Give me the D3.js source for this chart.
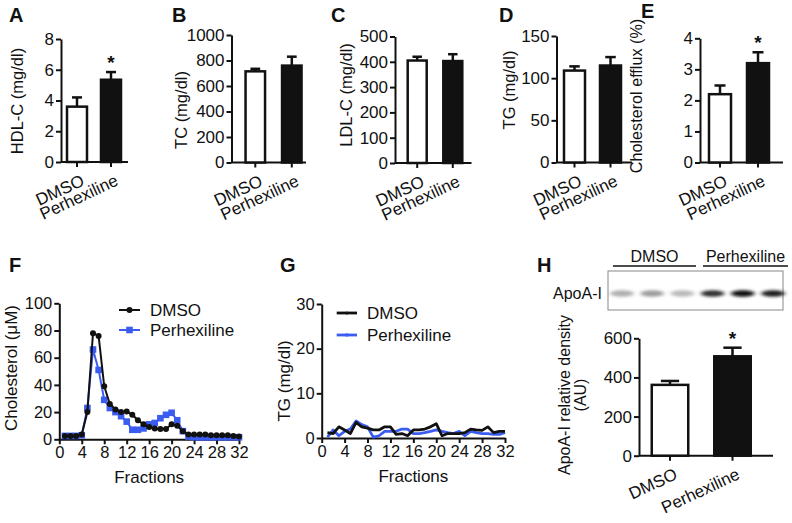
<!DOCTYPE html>
<html><head><meta charset="utf-8">
<script src="https://cdn.jsdelivr.net/npm/d3@7"></script>
<style>
body{margin:0;background:#fff;}
svg text{font-family:"Liberation Sans",Arial,Helvetica,sans-serif;fill:#111;}
</style></head><body>
<svg id="fig" width="792" height="523"></svg>
<script>
// ---------- DATA ----------
const groups = ["DMSO", "Perhexiline"];
const hdlMean = [3.6, 5.35], hdlErr = [0.6, 0.5], hdlSig = ["", "*"];
const hdlTicks = [0, 2, 4, 6, 8];
const tcMean = [715, 760], tcErr = [20, 70], tcSig = ["", ""];
const tcTicks = [0, 200, 400, 600, 800, 1000];
const ldlMean = [405, 403], ldlErr = [15, 27], ldlSig = ["", ""];
const ldlTicks = [0, 100, 200, 300, 400, 500];
const tgMean = [109, 115], tgErr = [5, 10], tgSig = ["", ""];
const tgTicks = [0, 50, 100, 150];
const effluxMean = [2.2, 3.2], effluxErr = [0.28, 0.35], effluxSig = ["", "*"];
const effluxTicks = [0, 1, 2, 3, 4];
const apoMean = [362, 508], apoErr = [20, 44], apoSig = ["", "*"];
const apoTicks = [0, 200, 400, 600];
const apoBand = [0.42, 0.48, 0.38, 0.85, 0.97, 0.9];  // blot band darkness

const fractions = d3.range(1, 33);
const fracTicks = [0, 4, 8, 12, 16, 20, 24, 28, 32];
const cholDMSO = [2.5,2.5,2.5,3.5,20,78,76,39,26,22,20,20.5,18,14,11,9,8,7.5,7.5,11,10,6,3.5,3.5,3.5,3.5,3,3,3,3,2.5,2];
const cholPerh = [2.5,2.5,2.5,3,23,66,51,29,23,20,17,13,7,7,8,11,12,15.5,18,19.5,14,6,2,1.5,1.5,1.5,1.5,1.5,1.5,1.5,1.5,1.5];
const cholTicks = [0, 20, 40, 60, 80, 100];
const tgfDMSO = [1.2,1.0,2.5,1.8,1.0,3.5,2.5,2.2,1.8,1.8,2.5,2.5,0.8,1.0,0.5,1.8,1.8,2.0,2.5,3.2,0.5,1.0,1.0,1.0,1.2,2.0,1.8,1.7,2.5,1.2,1.5,1.5];
const tgfPerh = [0.2,1.8,0.5,1.5,2.0,3.8,3.0,2.5,0.2,0.5,1.5,1.5,1.5,2.0,2.0,1.0,1.0,1.2,1.5,1.8,1.5,1.2,1.0,1.5,0.5,1.5,1.2,1.0,1.0,0.8,0.8,1.2];
const tgfTicks = [0, 10, 20, 30];

// ---------- DRAW ----------
const svg = d3.select("#fig");
const BLUE = "#3b5cf0";
const fmt = d3.format("d");
svg.append("defs").append("filter").attr("id","blur").attr("x","-50%").attr("y","-100%").attr("width","200%").attr("height","300%")
  .append("feGaussianBlur").attr("stdDeviation","2.2 1.4");

function panelLetter(t, x, y){
  svg.append("text").attr("x",x).attr("y",y).attr("font-size",20).attr("font-weight","bold").text(t);
}

function barPanel(o){
  const g = svg.append("g");
  const y = d3.scaleLinear().domain([0, o.ticks[o.ticks.length-1]]).range([o.y0, o.yTop]);
  const x = d3.scalePoint().domain(groups).range(o.centers);
  const ax = d3.axisLeft(y).tickValues(o.ticks).tickFormat(fmt).tickSize(5).tickSizeOuter(0).tickPadding(2);
  const ag = g.append("g").attr("transform",`translate(${o.ax},0)`).call(ax);
  ag.selectAll("text").attr("font-size",o.fs).attr("fill","#111");
  ag.selectAll("line,path").attr("stroke","#111").attr("stroke-width",2);
  g.append("line").attr("x1",o.ax).attr("x2",o.xEnd).attr("y1",o.y0).attr("y2",o.y0).attr("stroke","#111").attr("stroke-width",2);
  groups.forEach((gr,i)=>{
    const cx = x(gr);
    g.append("line").attr("x1",cx).attr("x2",cx).attr("y1",o.y0).attr("y2",o.y0+5).attr("stroke","#111").attr("stroke-width",2);
    const top = y(o.mean[i]+o.err[i]);
    g.append("line").attr("x1",cx).attr("x2",cx).attr("y1",y(o.mean[i])).attr("y2",top).attr("stroke","#111").attr("stroke-width",2.5);
    g.append("line").attr("x1",cx-o.bw/4).attr("x2",cx+o.bw/4).attr("y1",top).attr("y2",top).attr("stroke","#111").attr("stroke-width",2.5);
    g.append("rect").attr("x",cx-o.bw/2).attr("width",o.bw).attr("y",y(o.mean[i])).attr("height",o.y0-y(o.mean[i]))
      .attr("fill", i===0?"#fff":"#111").attr("stroke","#111").attr("stroke-width",2.5);
    if(o.sig[i]) g.append("text").attr("x",cx).attr("y",top-3).attr("text-anchor","middle").attr("font-size",19).attr("font-weight","bold").text(o.sig[i]);
    g.append("text").attr("text-anchor","end").attr("font-size",o.fs)
      .attr("transform",`translate(${cx+3},${o.y0+11}) rotate(-25)`).attr("dy","0.75em").text(gr);
  });
  const lab = g.append("text").attr("text-anchor","middle").attr("font-size",o.lfs||o.fs)
    .attr("transform",`translate(${o.lx},${o.ly}) rotate(-90)`);
  o.label.forEach((l,k)=>{
    lab.append("tspan").attr("x",0).attr("dy", k===0?0:(o.lfs||o.fs)*1.0).text(l);
  });
}

panelLetter("A",9,22);
barPanel({ax:61,xEnd:128,centers:[77,111],bw:20,yTop:39,y0:162,ticks:hdlTicks,mean:hdlMean,err:hdlErr,sig:hdlSig,label:["HDL-C (mg/dl)"],lx:23,ly:101,fs:17,lfs:16.5});
panelLetter("B",172,22);
barPanel({ax:231.5,xEnd:306,centers:[255.3,291.8],bw:19.5,yTop:35,y0:162.5,ticks:tcTicks,mean:tcMean,err:tcErr,sig:tcSig,label:["TC (mg/dl)"],lx:187,ly:110,fs:17,lfs:16.5});
panelLetter("C",331,22);
barPanel({ax:395,xEnd:471.5,centers:[417.2,452.8],bw:19,yTop:36.5,y0:163,ticks:ldlTicks,mean:ldlMean,err:ldlErr,sig:ldlSig,label:["LDL-C (mg/dl)"],lx:352,ly:95,fs:17,lfs:16.5});
panelLetter("D",499,22);
barPanel({ax:556.5,xEnd:632,centers:[574.5,610.5],bw:21,yTop:36,y0:162.5,ticks:tgTicks,mean:tgMean,err:tgErr,sig:tgSig,label:["TG (mg/dl)"],lx:515,ly:90,fs:17,lfs:16.5});
panelLetter("E",641,18);
barPanel({ax:700,xEnd:783,centers:[720,758],bw:22,yTop:38.3,y0:162.5,ticks:effluxTicks,mean:effluxMean,err:effluxErr,sig:effluxSig,label:["Cholesterol efflux (%)"],lx:642,ly:96,fs:17,lfs:16.2});

// ---------- line panels ----------
function linePanel(o){
  const g = svg.append("g");
  const x = d3.scaleLinear().domain([0,32]).range([o.ax,o.xEnd]);
  const y = d3.scaleLinear().domain([0,o.ticks[o.ticks.length-1]]).range([o.y0,o.yTop]);
  const ay = g.append("g").attr("transform",`translate(${o.ax},0)`).call(d3.axisLeft(y).tickValues(o.ticks).tickFormat(fmt).tickSize(5).tickSizeOuter(0).tickPadding(2));
  const axg = g.append("g").attr("transform",`translate(0,${o.y0})`).call(d3.axisBottom(x).tickValues(fracTicks).tickFormat(fmt).tickSize(5).tickSizeOuter(0).tickPadding(2));
  [ay,axg].forEach(a=>{a.selectAll("text").attr("font-size",16.5).attr("fill","#111");a.selectAll("line,path").attr("stroke","#111").attr("stroke-width",2);});
  const line = d3.line().x((d,i)=>x(fractions[i])).y(d=>y(d));
  [[o.s2,BLUE],[o.s1,"#111"]].forEach(([s,c],k)=>{
    g.append("path").datum(s).attr("d",line).attr("fill","none").attr("stroke",c).attr("stroke-width",o.lw).attr("stroke-linejoin","round");
    if(o.markers){
      if(c===BLUE) g.selectAll(null).data(s).join("rect").attr("x",(d,i)=>x(fractions[i])-3.3).attr("y",d=>y(d)-3.3).attr("width",6.6).attr("height",6.6).attr("fill",BLUE);
      else g.selectAll(null).data(s).join("circle").attr("cx",(d,i)=>x(fractions[i])).attr("cy",d=>y(d)).attr("r",3).attr("fill","#111");
    }
  });
  [["DMSO","#111",o.lg[2]],["Perhexiline",BLUE,o.lg[3]]].forEach(([t,c,ly],k)=>{
    g.append("line").attr("x1",o.lg[0]).attr("x2",o.lg[1]).attr("y1",ly).attr("y2",ly).attr("stroke",c).attr("stroke-width",o.lw);
    const mx=(o.lg[0]+o.lg[1])/2;
    if(k===0) g.append("circle").attr("cx",mx).attr("cy",ly).attr("r",o.markers?3:1.5).attr("fill",c);
    else g.append("rect").attr("x",mx-(o.markers?3.3:1.5)).attr("y",ly-(o.markers?3.3:1.5)).attr("width",o.markers?6.6:3).attr("height",o.markers?6.6:3).attr("fill",c);
    g.append("text").attr("x",o.lg[1]+10).attr("y",ly+6).attr("font-size",17).text(t);
  });
  g.append("text").attr("x",(o.ax+o.xEnd)/2).attr("y",o.y0+44).attr("text-anchor","middle").attr("font-size",17).text("Fractions");
  g.append("text").attr("text-anchor","middle").attr("font-size",17).attr("transform",`translate(${o.lx},${o.ly}) rotate(-90)`).text(o.label);
}
panelLetter("F",9,272);
linePanel({ax:59.3,xEnd:239,yTop:303.3,y0:439.3,ticks:cholTicks,s1:cholDMSO,s2:cholPerh,markers:true,lw:2,lg:[119,140,310,330],label:"Cholesterol (μM)",lx:17,ly:368});
panelLetter("G",280,272);
linePanel({ax:321.7,xEnd:505,yTop:304,y0:438,ticks:tgfTicks,s1:tgfDMSO,s2:tgfPerh,markers:false,lw:2.8,lg:[336.7,357,313,335],label:"TG (mg/dl)",lx:290,ly:381});

// ---------- panel H ----------
panelLetter("H",537,272);
const blot = svg.append("g");
blot.append("rect").attr("x",608).attr("y",271).attr("width",175).attr("height",39).attr("fill","#fff").attr("stroke","#888").attr("stroke-width",1);
const bandX = d3.scalePoint().domain(d3.range(6)).range([622,773]);
blot.selectAll(null).data(apoBand).join("ellipse")
  .attr("cx",(d,i)=>bandX(i)).attr("cy",293.5).attr("rx",12).attr("ry",3.3)
  .attr("fill",d=>d3.interpolateGreys(d)).attr("filter","url(#blur)");
blot.append("text").attr("x",553).attr("y",299).attr("font-size",16).text("ApoA-I");
[["DMSO",613,696],["Perhexiline",703,788]].forEach(([t,a,b])=>{
  blot.append("line").attr("x1",a).attr("x2",b).attr("y1",266).attr("y2",266).attr("stroke","#111").attr("stroke-width",1.5);
  blot.append("text").attr("x",(a+b)/2).attr("y",262).attr("text-anchor","middle").attr("font-size",16).text(t);
});
barPanel({ax:639,xEnd:773,centers:[670,732.5],bw:36.5,yTop:338.3,y0:455.7,ticks:apoTicks,mean:apoMean,err:apoErr,sig:apoSig,label:["ApoA-I relative density","(AU)"],lx:570,ly:395,fs:17,lfs:16});
</script>
</body></html>
